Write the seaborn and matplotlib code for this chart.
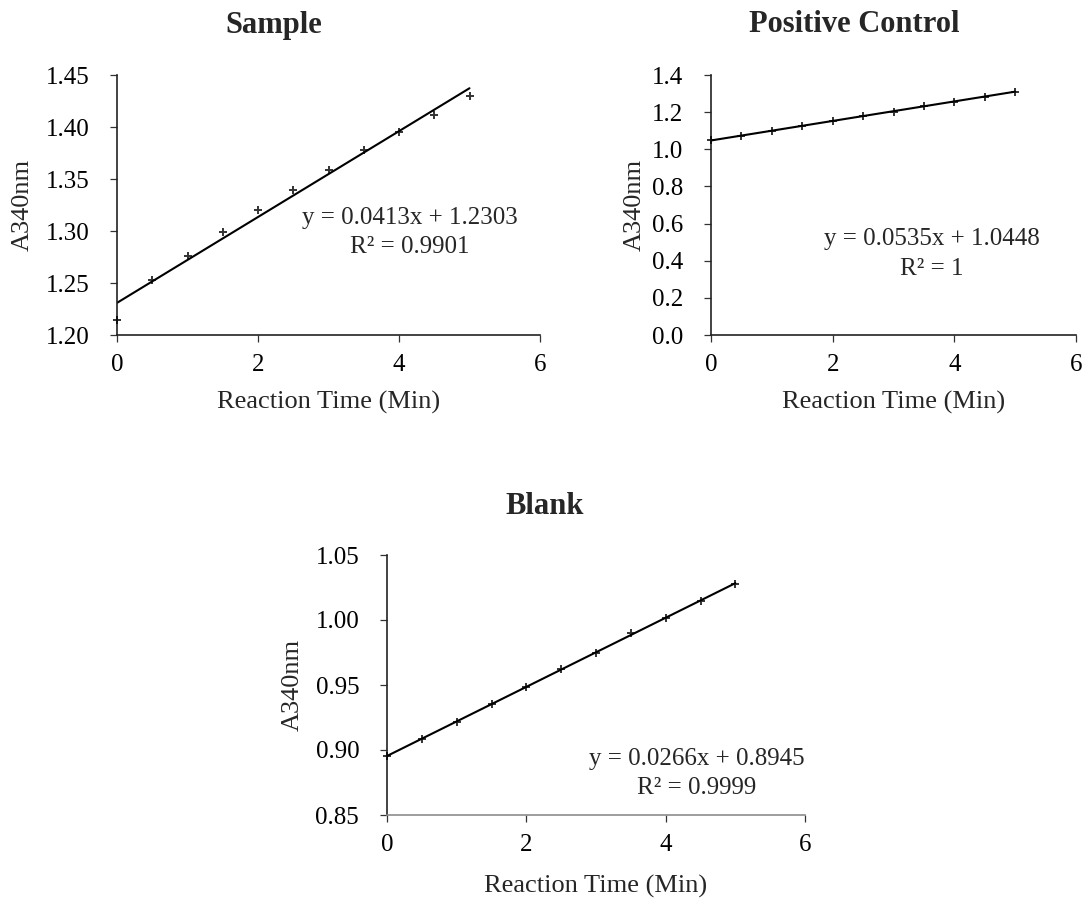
import matplotlib
matplotlib.use("Agg")
import matplotlib.pyplot as plt
import seaborn as sns
import numpy as np
import pandas as pd

sns.set_theme(style="ticks")
plt.rcParams['font.family'] = ['Liberation Serif', 'DejaVu Serif']

time_min = [0, 0.5, 1.0, 1.5, 2.0, 2.5, 3.0, 3.5, 4.0, 4.5, 5.0]
sample_a340 = [1.214, 1.253, 1.276, 1.299, 1.320, 1.339, 1.359, 1.378, 1.395, 1.412, 1.430]
positive_a340 = [1.050, 1.072, 1.099, 1.126, 1.153, 1.180, 1.203, 1.233, 1.257, 1.284, 1.311]
blank_a340 = [0.8954, 0.9082, 0.9218, 0.9354, 0.9487, 0.9621, 0.9749, 0.9898, 1.0018, 1.0146, 1.0277]

titles = ["Sample", "Positive Control", "Blank"]
equations = ["y = 0.0413x + 1.2303", "y = 0.0535x + 1.0448", "y = 0.0266x + 0.8945"]
r2_labels = ["R² = 0.9901", "R² = 1", "R² = 0.9999"]
x_ticks = [0, 2, 4, 6]
y_ticks_sample = [1.20, 1.25, 1.30, 1.35, 1.40, 1.45]
y_ticks_positive = [0.0, 0.2, 0.4, 0.6, 0.8, 1.0, 1.2, 1.4]
y_ticks_blank = [0.85, 0.90, 0.95, 1.00, 1.05]

W, H = 1090, 907
fig = plt.figure(figsize=(W / 100, H / 100), dpi=100)

def px_axes(x0, x1, ytop, ybot):
    return fig.add_axes([x0 / W, 1 - ybot / H, (x1 - x0) / W, (ybot - ytop) / H])

ax1 = px_axes(117, 540, 75, 335)
ax2 = px_axes(711, 1076, 75, 335)
ax3 = px_axes(387, 805, 555, 815)

# (axis, values, yticks, format, text x, eq y, r2 y, ylabel x, xlabel y, title px)
panels = [
    (ax1, sample_a340, y_ticks_sample, "{:.2f}", 4.15, 1.3125, 1.2845, -0.196, -0.215, (274, 25)),
    (ax2, positive_a340, y_ticks_positive, "{:.1f}", 3.63, 0.517, 0.355, -0.178, -0.215, (854, 24)),
    (ax3, blank_a340, y_ticks_blank, "{:.2f}", 4.44, 0.893, 0.871, -0.199, -0.232, (545, 506)),
]

for i, (ax, yvals, yt, fmt, tx, ty1, ty2, ylx, xly, tpos) in enumerate(panels):
    df = pd.DataFrame({"t": time_min, "a": yvals})
    sns.regplot(data=df, x="t", y="a", ax=ax, ci=None, truncate=True,
                marker="+", color="black",
                scatter_kws={"s": 36, "linewidths": 1.4, "clip_on": False, "zorder": 4},
                line_kws={"color": "black", "linewidth": 1.5})
    ax.set_xlim(0, 6)
    ax.set_ylim(yt[0], yt[-1])
    ax.set_xticks(x_ticks)
    ax.set_xticklabels([str(v) for v in x_ticks], fontsize=18)
    ax.set_yticks(yt)
    ax.set_yticklabels([fmt.format(v) for v in yt], fontsize=18)
    ax.set_xlabel("Reaction Time (Min)", fontsize=19)
    ax.set_ylabel("A340nm", fontsize=19)
    ax.xaxis.set_label_coords(0.5, xly)
    ax.yaxis.set_label_coords(ylx, 0.5)
    fig.text(tpos[0] / W, 1 - tpos[1] / H, titles[i], fontsize=22, fontweight="bold",
             ha="center", va="center")
    sns.despine(ax=ax)
    for s in ("left", "bottom"):
        ax.spines[s].set_linewidth(1.2)
        ax.spines[s].set_color("#222222")
    ax.tick_params(axis="both", direction="out", length=5, width=0.9, colors="#333333",
                   labelcolor="black")
    ax.tick_params(axis="x", pad=9)
    ax.tick_params(axis="y", pad=15)
    ax.text(tx, ty1, equations[i], fontsize=18, ha="center", va="center")
    ax.text(tx, ty2, r2_labels[i], fontsize=18, ha="center", va="center")

ax3.spines["bottom"].set_color("#8c8c8c")

fig.savefig("out.png", dpi=100, facecolor="white")
